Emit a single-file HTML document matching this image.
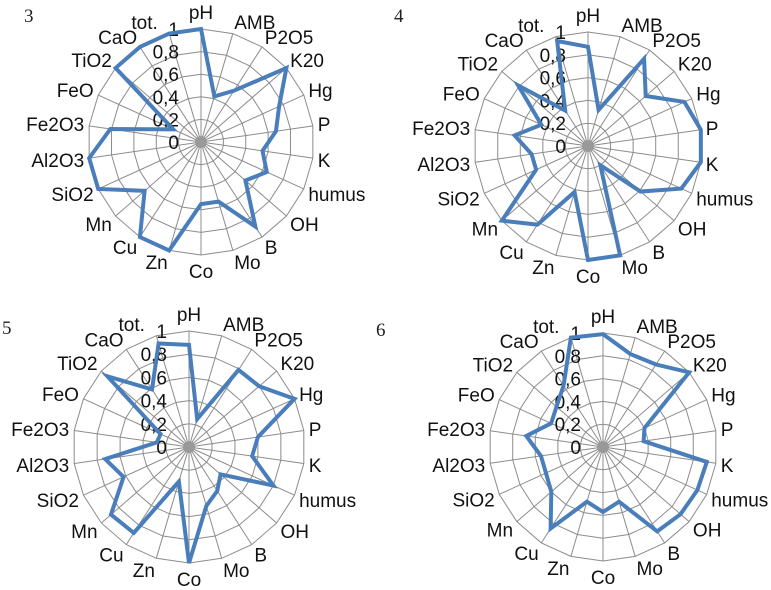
<!DOCTYPE html>
<html><head><meta charset="utf-8">
<style>
html,body{margin:0;padding:0;background:#fff;}
svg{display:block;font-family:"Liberation Sans",sans-serif;}
.num{font-family:"Liberation Serif",serif;font-size:19px;fill:#222;}
.cat{font-size:19px;fill:#111;}
.tick{font-size:19px;fill:#111;}
</style></head>
<body>
<svg id="chart" width="771" height="590" viewBox="0 0 771 590" xmlns="http://www.w3.org/2000/svg">
<text class="num" x="24" y="22">3</text>
<text class="num" x="394" y="22">4</text>
<text class="num" x="2" y="334">5</text>
<text class="num" x="376" y="336">6</text>
</svg>
<script>
const categories = ["pH","AMB","P2O5","K20","Hg","P","K","humus","OH","B","Mo","Co","Zn","Cu","Mn","SiO2","Al2O3","Fe2O3","FeO","TiO2","CaO","tot."];
const tickLabels = ["0","0,2","0,4","0,6","0,8","1"];
const tickValues = [0,0.2,0.4,0.6,0.8,1];
const series3 = [1.0,0.42,0.54,1.0,0.76,0.67,0.55,0.64,0.52,0.89,0.55,0.55,1.0,1.0,0.66,1.0,1.0,0.81,0.27,1.0,1.0,1.0];
const series4 = [0.87,0.33,0.91,0.67,0.93,1.0,1.0,0.9,0.61,0.2,1.0,1.0,0.42,0.82,1.0,0.5,0.5,0.65,0.45,0.81,0.37,0.96];
const series5 = [0.88,0.25,0.79,0.8,1.0,0.6,0.55,0.8,0.36,0.45,0.53,1.0,0.31,0.88,0.89,0.62,0.73,0.28,0.27,0.93,0.59,0.93];
const series6 = [0.99,0.85,0.86,1.0,0.4,0.36,0.92,0.91,0.9,0.88,0.5,0.57,0.5,0.85,0.6,0.55,0.55,0.68,0.5,0.54,0.64,1.0];
const panels = [
  {name:"3", cx:201, cy:142, r:113, values:series3},
  {name:"4", cx:588, cy:146, r:114, values:series4},
  {name:"5", cx:189, cy:447, r:116, values:series5},
  {name:"6", cx:603, cy:447, r:114, values:series6}
];
const NS="http://www.w3.org/2000/svg";
const svg=document.getElementById('chart');
function mk(tag,attrs,parent){const e=document.createElementNS(NS,tag);for(const k in attrs)e.setAttribute(k,attrs[k]);(parent||svg).appendChild(e);return e;}
function angle(i){return i*2*Math.PI/categories.length;}
function pt(p,i,v){const a=angle(i);return [p.cx+Math.sin(a)*v*p.r, p.cy-Math.cos(a)*v*p.r];}
panels.forEach(p=>{
  const g=mk('g',{});
  
  
  tickValues.forEach(t=>{ if(t===0) return;
    const pts=categories.map((c,i)=>pt(p,i,t).join(',')).join(' ');
    const ring=mk('polygon',{points:pts,fill:'none',stroke:'#8c8c8c','stroke-width':1},g);
    
    
  });
  categories.forEach((c,i)=>{
    const e=pt(p,i,1);
    const s=mk('line',{x1:p.cx,y1:p.cy,x2:e[0],y2:e[1],stroke:'#8c8c8c','stroke-width':1},g);
    
    
  });
  const hub=mk('circle',{cx:p.cx,cy:p.cy,r:6,fill:'#999'},g);
  
  
  tickValues.forEach((t,k)=>{
    const tx=mk('text',{x:p.cx-22,y:p.cy-t*p.r+7,'text-anchor':'end',class:'tick'},g);
    tx.textContent=tickLabels[k];
    
    
  });
  categories.forEach((c,i)=>{
    const a=angle(i), s=Math.sin(a), co=Math.cos(a);
    const d=p.r+5;
    let x=p.cx+s*d, y=p.cy-co*d;
    let anchor='middle';
    if(s>0.15) anchor='start'; else if(s<-0.15) anchor='end';
    if(anchor==='middle'){ y += co>0 ? -5 : 18; }
    else { y += 7 - co*7; }
    if(i===categories.length-1){ x-=10; }
    const lb=mk('text',{x:x,y:y,'text-anchor':anchor,class:'cat'},g);
    lb.textContent=c;
    
    
  });
  const pts=p.values.map((v,i)=>pt(p,i,v).join(',')).join(' ');
  const poly=mk('polygon',{points:pts,fill:'none',stroke:'#4a7ebb','stroke-width':4,'stroke-linejoin':'miter'},g);
  
  
});
</script>
</body></html>
